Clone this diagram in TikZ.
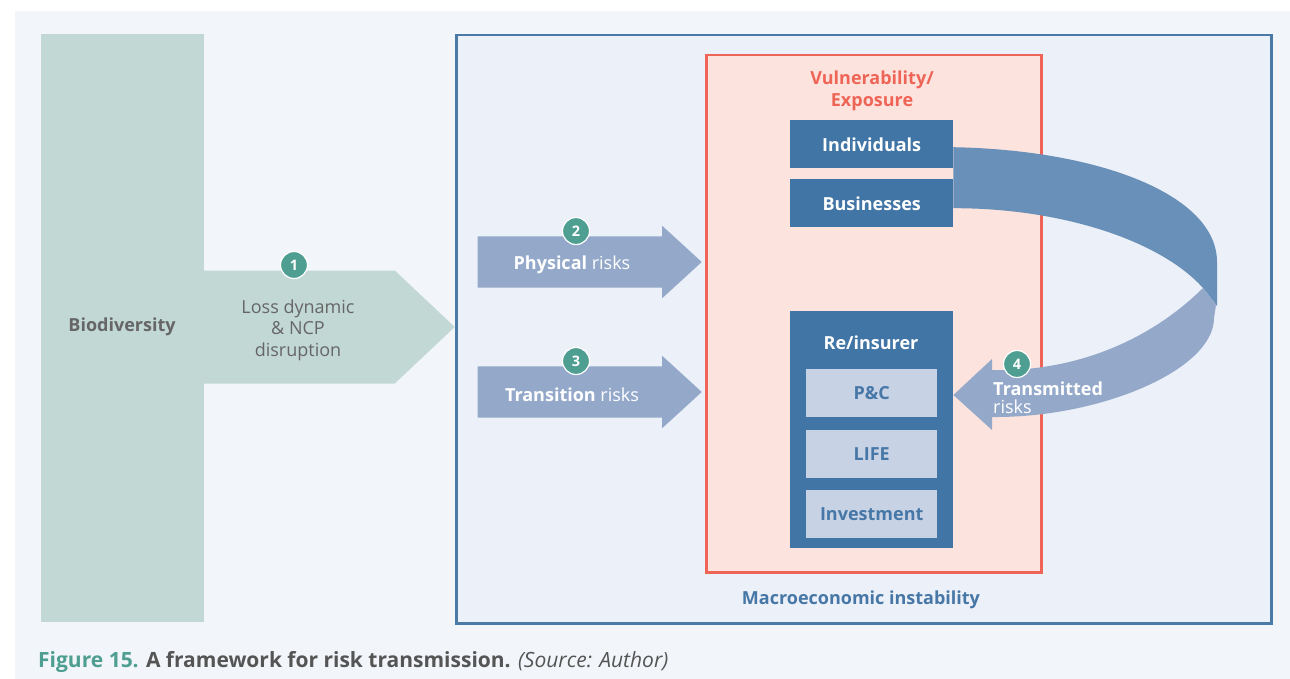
\documentclass[tikz,border=0pt]{standalone}
\usepackage{fontspec}
\setmainfont{Open Sans}
\usetikzlibrary{shapes.arrows,calc}

\definecolor{panelbg}{HTML}{F2F5F9}
\definecolor{biogreen}{HTML}{C2D8D5}
\definecolor{outerbg}{HTML}{ECF0F8}
\definecolor{outerblue}{HTML}{4A7BA7}
\definecolor{redbg}{HTML}{FDE3DD}
\definecolor{redline}{HTML}{EE6557}
\definecolor{boxblue}{HTML}{4175A5}
\definecolor{boxlight}{HTML}{C8D2E5}
\definecolor{textblue}{HTML}{4677A6}
\definecolor{arrowblue}{HTML}{94A9CA}
\definecolor{ribbondark}{HTML}{6990B8}
\definecolor{dotteal}{HTML}{4E9E91}
\definecolor{graytext}{HTML}{666666}
\definecolor{capgray}{HTML}{555555}

\begin{document}
\begin{tikzpicture}[x=1pt, y=-1pt,
  every node/.style = {inner sep=0pt, font=\fontsize{18}{21.5}\selectfont},
  bluebox/.style = {fill=boxblue, text=white, font=\bfseries\fontsize{18}{20}\selectfont,
    text depth=0pt, minimum width=163, minimum height=48, anchor=north west},
  subbox/.style = {fill=boxlight, text=textblue, font=\bfseries\fontsize{18}{20}\selectfont,
    text depth=0pt, minimum width=131, minimum height=48, anchor=north west},
  riskarrow/.style = {single arrow, fill=arrowblue, anchor=tip, inner xsep=0pt, inner ysep=25.5pt,
    minimum height=224, minimum width=72, single arrow head extend=10.5,
    single arrow tip angle=85},
  numdot/.style = {circle, fill=dotteal, draw=white, line width=1.2pt, text=white,
    font=\bfseries\fontsize{14.5}{14}\selectfont, minimum size=27}]
  \useasboundingbox[fill=white] (0,0) rectangle (1290,679);
  \fill[panelbg] (15,11) rectangle (1290,679);

  \node[fill=biogreen, minimum width=163, minimum height=588, anchor=north west] (bio) at (41,34) {};
  \node[text=graytext, font=\bfseries\fontsize{18}{20}\selectfont] (biolbl) at (122,327) {Biodiversity};
  \node[single arrow, fill=biogreen, anchor=tip, minimum height=251, minimum width=113,
    single arrow head extend=0, single arrow tip angle=86.6] (loss) at (455,327) {};
  \node[text=graytext, align=center] (losslbl) at (298,330) {Loss dynamic\\\& NCP\\disruption};

  \node[draw=outerblue, line width=2.5, fill=outerbg, minimum width=815, minimum height=588,
    anchor=north west] (macro) at (455,34) {};
  \node[text=textblue, font=\bfseries\fontsize{18}{20}\selectfont] (macrolbl) at (861,600) {Macroeconomic instability};

  \node[draw=redline, line width=2.5, fill=redbg, minimum width=335, minimum height=517,
    anchor=north west] (vuln) at (705,54) {};
  \node[text=redline, align=center, font=\bfseries\fontsize{18}{22}\selectfont] (vulnlbl) at (872,91) {Vulnerability/\\Exposure};

  \node[bluebox] (ind) at (790,120) {Individuals};
  \node[bluebox] (bus) at (790,179) {Businesses};
  \node[bluebox, minimum height=237] (reins) at (790,311) {};
  \node[text=white, font=\bfseries\fontsize{18}{20}\selectfont] (reinslbl) at (871,343) {Re/insurer};
  \node[subbox] (pc) at (806,369) {P\&C};
  \node[subbox] (life) at (806,430) {LIFE};
  \node[subbox] (inv) at (806,490) {Investment};

  \node[riskarrow] (phys) at (702,262) {};
  \node[text=white] (physlbl) at (572,265) {\textbf{Physical} risks};
  \node[riskarrow] (trans) at (702,392) {};
  \node[text=white] (translbl) at (572,395) {\textbf{Transition} risks};

  \fill[ribbondark] ($(ind.east)+(0,3)$) .. controls (1100,150) and (1217,195) .. (1217,262)
    -- (1217,306) -- (1203,288) .. controls (1160,240) and (1060,208) .. ($(bus.east)+(0,5)$) -- cycle;
  \fill[arrowblue] (1203,288) .. controls (1140,350) and (1060,372) .. (992,370) -- (992,359)
    -- (reins.east |- 0,395) -- (992,430) -- (992,417) .. controls (1100,418) and (1214,370) .. (1214,318)
    -- (1216,305) -- cycle;
  \node[text=white, align=left, anchor=west, font=\fontsize{18}{18}\selectfont] (tranmlbl) at (993,398) {\textbf{Transmitted}\\risks};

  \node[numdot] (n1) at (294,265) {1};
  \node[numdot] (n2) at (576,231) {2};
  \node[numdot] (n3) at (576,361) {3};
  \node[numdot] (n4) at (1017,364) {4};

  \node[anchor=base west, font=\fontsize{21}{22}\selectfont] (caption) at (38,667)
    {\textcolor{dotteal}{\bfseries Figure 15.} \textcolor{capgray}{\bfseries A framework for risk transmission.} \textcolor{capgray}{\itshape (Source: Author)}};
\end{tikzpicture}
\end{document}
